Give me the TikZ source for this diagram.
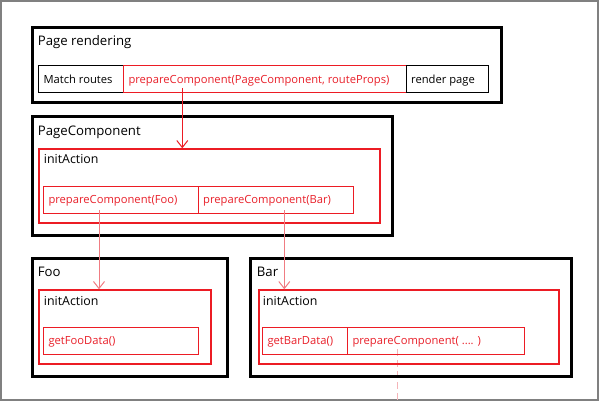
\documentclass[tikz,border=0pt]{standalone}
\usepackage{fontspec}
\setmainfont{Open Sans}
\usetikzlibrary{arrows.meta}
\definecolor{redA}{HTML}{EC1C24}
\definecolor{redT}{HTML}{E8202A}
\definecolor{redL}{HTML}{F07C82}
\definecolor{redD}{HTML}{F4B4B8}
\definecolor{frame}{HTML}{808080}
\tikzset{
  comp/.style={draw=black, line width=3pt, anchor=north west, inner sep=0pt},
  act/.style={draw=redA, line width=2pt, anchor=north west, inner sep=0pt},
  cellB/.style={draw=black, line width=1pt, anchor=north west, inner sep=0pt},
  cellR/.style={draw=redA, line width=1pt, anchor=north west, inner sep=0pt},
  ttl/.style={anchor=base west, inner sep=0pt, font=\fontsize{13.2}{16}\selectfont},
  atl/.style={anchor=base west, inner sep=0pt, font=\fontsize{12.4}{15}\selectfont},
  txt/.style={anchor=base west, inner sep=0pt, font=\fontsize{11.2}{14}\selectfont},
  rtxt/.style={txt, text=redT},
  flow/.style={line width=1pt, -{Straight Barb[length=7pt,width=11pt,line width=1pt]}},
}
\newcommand{\bx}[6]{\node[#1, minimum width=#4-#2, minimum height=#5-#3] (#6) at (#2,#3) {};}
\begin{document}
\begin{tikzpicture}[x=1pt,y=-1pt]
\useasboundingbox (0,0) rectangle (600,401);
\draw[frame, line width=2.5pt] (1.2,1.2) rectangle (597.8,399.8);
% dashed continuation
\coordinate (dstart) at (397,349);
\coordinate (dend) at (397,401);
\draw[redD, line width=1pt, dash pattern=on 7pt off 4pt] (dstart) -- (dend);
% Page rendering
\bx{comp}{30.5}{25.8}{499.8}{101.2}{pr}
\node[ttl] (prT) at (37.7,45.7) {Page rendering};
\bx{cellB}{38.2}{64.8}{123}{91.8}{mr}
\bx{cellR}{123}{64.8}{406}{91.8}{pp}
\bx{cellB}{406}{64.8}{488.2}{91.8}{rp}
\node[txt] (mrT) at (43.3,83.3) {Match routes};
\node[rtxt] (ppT) at (128.3,83.3) {prepareComponent(PageComponent, routeProps)};
\node[txt] (rpT) at (411,83.3) {render page};
% PageComponent
\bx{comp}{30.5}{115.5}{391.2}{233.5}{pc}
\node[ttl] (pcT) at (37.7,135.3) {PageComponent};
\bx{act}{38.3}{148.3}{379}{221.7}{pci}
\node[atl] (pciT) at (43.7,164) {initAction};
\bx{cellR}{43.2}{185.8}{198}{213.2}{pf}
\bx{cellR}{198}{185.8}{352.8}{213.2}{pb}
\node[rtxt] (pfT) at (48.3,204) {prepareComponent(Foo)};
\node[rtxt] (pbT) at (203,204) {prepareComponent(Bar)};
% Foo
\bx{comp}{30.5}{256.5}{226.2}{374.5}{foo}
\node[ttl] (fooT) at (37.7,276) {Foo};
\bx{act}{38.3}{289.3}{209.7}{363.3}{fooi}
\node[atl] (fooiT) at (43.7,305) {initAction};
\bx{cellR}{43.2}{326.5}{198.2}{353.8}{gf}
\node[rtxt] (gfT) at (48.3,344.3) {getFooData()};
% Bar
\bx{comp}{249.2}{256.5}{569.5}{374.5}{bar}
\node[ttl] (barT) at (256.7,276) {Bar};
\bx{act}{257.7}{289.3}{558}{363.3}{bari}
\node[atl] (bariT) at (262.7,305) {initAction};
\bx{cellR}{262.2}{326.5}{346.7}{353.8}{gb}
\bx{cellR}{346.7}{326.5}{523.5}{353.8}{pd}
\node[rtxt] (gbT) at (267.3,344.3) {getBarData()};
\node[rtxt] (pdT) at (352.3,344.3) {prepareComponent( .... )};
% arrows
\coordinate (s1) at (182.3,88);
\coordinate (s2) at (99,210);
\coordinate (s3) at (284.3,210);
\draw[flow, redA] (s1) -- (s1 |- pci.north);
\draw[flow, redL] (s2) -- (s2 |- fooi.north);
\draw[flow, redL] (s3) -- (s3 |- bari.north);
\end{tikzpicture}
\end{document}
